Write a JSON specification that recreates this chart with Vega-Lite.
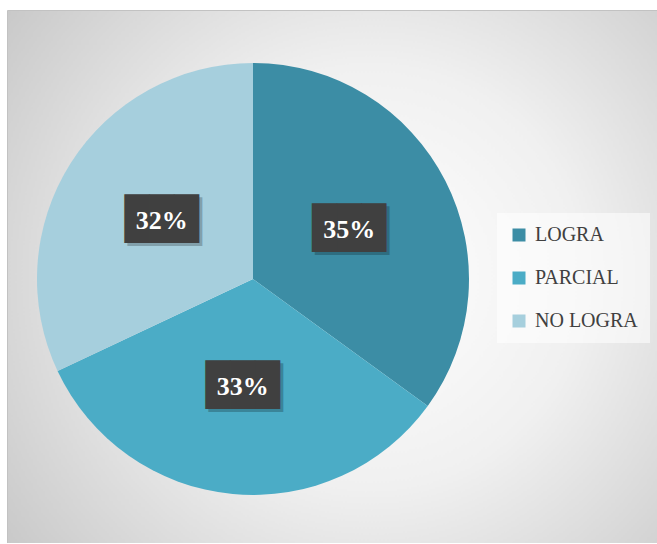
{
  "$schema": "https://vega.github.io/schema/vega-lite/v6.json",
  "width": 650,
  "height": 533,
  "padding": {"left": 7, "top": 10, "right": 0, "bottom": 0},
  "autosize": {"type": "pad"},
  "background": "white",
  "view": {
    "fill": {"gradient": "radial", "x1": 0.56, "y1": 0.5, "r1": 0, "x2": 0.56, "y2": 0.5, "r2": 0.72,
      "stops": [{"offset": 0, "color": "#ffffff"}, {"offset": 0.45, "color": "#f0f0f0"}, {"offset": 1, "color": "#c6c6c6"}]},
    "stroke": "#c2c2c2",
    "strokeWidth": 1
  },
  "data": {"values": [
    {"categoria": "LOGRA", "valor": 0.35},
    {"categoria": "PARCIAL", "valor": 0.33},
    {"categoria": "NO LOGRA", "valor": 0.32}
  ]},
  "encoding": {
    "theta": {"field": "valor", "type": "quantitative", "stack": true},
    "order": {"field": "valor", "sort": "descending"},
    "color": {
      "field": "categoria", "type": "nominal",
      "scale": {"domain": ["LOGRA", "PARCIAL", "NO LOGRA"], "range": ["#3c8da5", "#4bacc6", "#a6cfdd"]},
      "legend": {
        "orient": "none", "legendX": 490, "legendY": 203, "title": null,
        "symbolType": "square", "symbolSize": 169, "symbolStrokeWidth": 0,
        "labelFont": "Liberation Serif", "labelFontSize": 20, "labelColor": "#404040",
        "rowPadding": 23, "padding": 12, "fillColor": "rgba(255,255,255,0.55)", "labelOffset": 6
      }
    }
  },
  "layer": [
    {"mark": {"type": "arc", "outerRadius": 216, "xOffset": -79, "yOffset": 2.5}},
    {"mark": {"type": "text", "radius": 108, "xOffset": -76, "yOffset": 5.5, "font": "DejaVu Sans Mono", "fontSize": 41, "text": "███", "opacity": 0.22, "align": "center", "baseline": "middle"},
     "encoding": {"color": {"value": "#000000"}}},
    {"mark": {"type": "text", "radius": 108, "xOffset": -79, "yOffset": 2.5, "font": "DejaVu Sans Mono", "fontSize": 41, "text": "███", "align": "center", "baseline": "middle"},
     "encoding": {"color": {"value": "#404040"}}},
    {"mark": {"type": "text", "radius": 108, "xOffset": -79, "yOffset": 2.5, "font": "Liberation Serif", "fontWeight": "bold", "fontSize": 26, "align": "center", "baseline": "middle"},
     "encoding": {"color": {"value": "#ffffff"}, "text": {"field": "valor", "type": "quantitative", "format": ".0%"}}}
  ]
}
